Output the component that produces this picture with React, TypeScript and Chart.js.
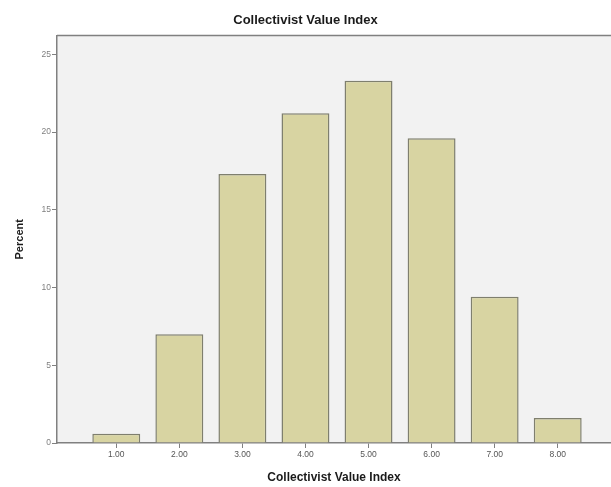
import React, { useEffect, useRef } from "react";
import { Chart, registerables } from "chart.js";

Chart.register(...registerables);

const chartTitle = "Collectivist Value Index";
const xAxisTitle = "Collectivist Value Index";
const yAxisTitle = "Percent";
const categories = [1, 2, 3, 4, 5, 6, 7, 8];
const percentValues = [0.6, 7.0, 17.3, 21.2, 23.3, 19.6, 9.4, 1.6];
const yTickValues = [0, 5, 10, 15, 20, 25];

const plotBackground = {
  id: "plotBackground",
  beforeDraw(chart: any) {
    const { ctx, chartArea } = chart;
    if (!chartArea) return;
    ctx.save();
    ctx.fillStyle = "#f2f2f2";
    ctx.fillRect(chartArea.left, chartArea.top, chartArea.right - chartArea.left, chartArea.bottom - chartArea.top);
    ctx.restore();
  },
  afterDraw(chart: any) {
    const { ctx, chartArea } = chart;
    if (!chartArea) return;
    ctx.save();
    ctx.strokeStyle = "#808080";
    ctx.lineWidth = 1.5;
    ctx.beginPath();
    ctx.moveTo(chartArea.left, chartArea.top);
    ctx.lineTo(chartArea.right, chartArea.top);
    ctx.stroke();
    ctx.restore();
  },
};

export default function App() {
  const canvasRef = useRef<HTMLCanvasElement | null>(null);

  useEffect(() => {
    document.body.style.margin = "0";
    const canvas = canvasRef.current;
    if (!canvas) return;
    const chart = new Chart(canvas, {
      type: "bar",
      data: {
        datasets: [
          {
            label: yAxisTitle,
            data: categories.map((c, i) => ({ x: c, y: percentValues[i] })),
            backgroundColor: "#d8d4a2",
            borderColor: "#7f7f6e",
            borderWidth: 1.5,
            categoryPercentage: 1,
            barPercentage: 0.76,
          },
        ],
      },
      options: {
        animation: false,
        responsive: false,
        maintainAspectRatio: false,
        layout: { padding: 0 },
        plugins: {
          legend: { display: false },
          tooltip: { enabled: false },
          title: {
            display: true,
            text: chartTitle,
            color: "#1a1a1a",
            font: { family: "'Liberation Sans', Arial, sans-serif", size: 13, weight: "bold" },
            padding: { top: 13, bottom: 7 },
          },
        },
        scales: {
          x: {
            type: "linear",
            offset: false,
            min: 0.06,
            max: 8.845,
            afterBuildTicks: (scale: any) => {
              scale.ticks = categories.map((v) => ({ value: v }));
            },
            afterFit: (scale: any) => {
              scale.height = 44;
            },
            ticks: {
              autoSkip: false,
              maxRotation: 0,
              padding: 2,
              color: "#555555",
              font: { family: "'Liberation Sans', Arial, sans-serif", size: 8.5 },
              callback: (v: any) => Number(v).toFixed(2),
            },
            grid: {
              offset: false,
              drawOnChartArea: false,
              drawTicks: true,
              tickLength: 5,
              color: "#808080",
              lineWidth: 1,
            },
            border: { display: true, color: "#808080", width: 1.5 },
            title: {
              display: true,
              text: xAxisTitle,
              color: "#1a1a1a",
              font: { family: "'Liberation Sans', Arial, sans-serif", size: 12, weight: "bold" },
              padding: { top: 8, bottom: 2 },
            },
          },
          y: {
            type: "linear",
            min: 0,
            max: 26.2,
            afterBuildTicks: (scale: any) => {
              scale.ticks = yTickValues.map((v) => ({ value: v }));
            },
            afterFit: (scale: any) => {
              scale.width = 57;
            },
            ticks: {
              padding: 1,
              color: "#808080",
              font: { family: "'Liberation Sans', Arial, sans-serif", size: 8.5 },
            },
            grid: {
              drawOnChartArea: false,
              drawTicks: true,
              tickLength: 5,
              color: "#808080",
              lineWidth: 1,
            },
            border: { display: true, color: "#808080", width: 1.5 },
            title: {
              display: true,
              text: yAxisTitle,
              color: "#1a1a1a",
              font: { family: "'Liberation Sans', Arial, sans-serif", size: 11, weight: "bold" },
              padding: { top: 13, bottom: 4 },
            },
          },
        },
      },
      plugins: [plotBackground],
    });
    return () => chart.destroy();
  }, []);

  return (
    <div style={{ width: 611, height: 487, background: "#ffffff" }}>
      <canvas ref={canvasRef} width={611} height={487} style={{ display: "block" }} />
    </div>
  );
}
